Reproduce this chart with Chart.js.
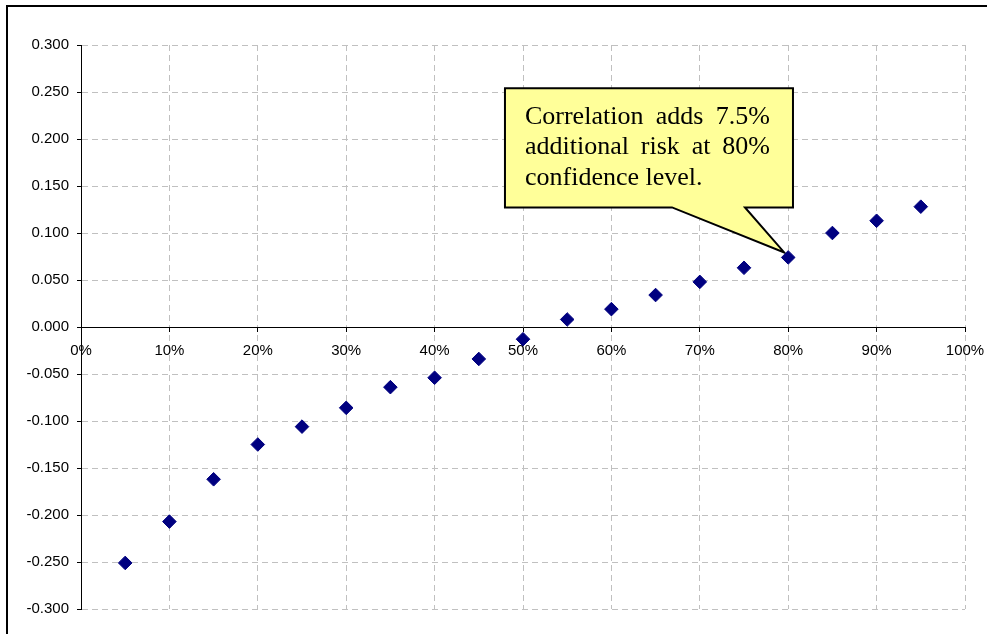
<!DOCTYPE html>
<html>
<head>
<meta charset="utf-8">
<script src="https://cdn.jsdelivr.net/npm/chart.js@4.4.1/dist/chart.umd.min.js"></script>
<style>
  html, body { margin: 0; padding: 0; background: #fff; }
  #wrap { position: relative; width: 987px; height: 634px; }
</style>
</head>
<body>
<div id="wrap"><canvas id="c" width="987" height="634"></canvas></div>
<script>
// ---- data ----
const confidenceLevels = [0.05, 0.10, 0.15, 0.20, 0.25, 0.30, 0.35, 0.40, 0.45, 0.50,
                          0.55, 0.60, 0.65, 0.70, 0.75, 0.80, 0.85, 0.90, 0.95];
const riskDifference   = [-0.251, -0.207, -0.162, -0.125, -0.106, -0.086, -0.064, -0.054, -0.034, -0.013,
                          0.008, 0.019, 0.034, 0.048, 0.063, 0.074, 0.100, 0.113, 0.128];
const xTickLabels = ['0%', '10%', '20%', '30%', '40%', '50%', '60%', '70%', '80%', '90%', '100%'];
const yTickLabels = ['-0.300', '-0.250', '-0.200', '-0.150', '-0.100', '-0.050', '0.000',
                     '0.050', '0.100', '0.150', '0.200', '0.250', '0.300'];
const calloutLines = ['Correlation adds 7.5%', 'additional risk at 80%', 'confidence level.'];
const calloutPointIndex = 15; // the 80% point

const points = confidenceLevels.map((x, i) => ({ x: x, y: riskDifference[i] }));

const GRID = '#c0c0c0';
const AXIS_FONT = { family: "'Liberation Sans', Arial, sans-serif", size: 15 };

const framePlugin = {
  id: 'frame',
  beforeDraw(chart) {
    const ctx = chart.ctx;
    ctx.save();
    ctx.fillStyle = '#fff';
    ctx.fillRect(0, 0, chart.width, chart.height);
    ctx.strokeStyle = '#000';
    ctx.lineWidth = 2;
    ctx.strokeRect(7, 6, chart.width + 50, chart.height + 50);
    ctx.restore();
  }
};

const calloutPlugin = {
  id: 'callout',
  beforeDatasetsDraw(chart, args, opts) {
    const xs = chart.scales.x, ys = chart.scales.y;
    const ctx = chart.ctx;
    const left = xs.getPixelForValue(opts.xMin);
    const right = xs.getPixelForValue(opts.xMax);
    const top = ys.getPixelForValue(opts.yMax);
    const bottom = ys.getPixelForValue(opts.yMin);
    const b1 = xs.getPixelForValue(opts.baseFrom);
    const b2 = xs.getPixelForValue(opts.baseTo);
    const meta = chart.getDatasetMeta(0);
    const pt = meta.data[opts.pointIndex];
    const tipX = pt.x + opts.tipOffset[0];
    const tipY = pt.y + opts.tipOffset[1];

    ctx.save();
    ctx.beginPath();
    ctx.moveTo(left, top);
    ctx.lineTo(right, top);
    ctx.lineTo(right, bottom);
    ctx.lineTo(b2, bottom);
    ctx.lineTo(tipX, tipY);
    ctx.lineTo(b1, bottom);
    ctx.lineTo(left, bottom);
    ctx.closePath();
    ctx.fillStyle = '#ffff99';
    ctx.fill();
    ctx.lineWidth = 2;
    ctx.lineJoin = 'miter';
    ctx.strokeStyle = '#000';
    ctx.stroke();

    // justified text
    ctx.fillStyle = '#000';
    ctx.font = "26px 'Liberation Serif', 'Times New Roman', serif";
    ctx.textBaseline = 'alphabetic';
    ctx.textAlign = 'left';
    const tx0 = left + opts.padLeft;
    const tx1 = right - opts.padRight;
    const avail = tx1 - tx0;
    calloutLines.forEach((line, li) => {
      const y = top + opts.firstBaseline + li * opts.lineHeight;
      const words = line.split(' ');
      const isLast = li === calloutLines.length - 1;
      if (isLast || words.length < 2) {
        ctx.fillText(line, tx0, y);
        return;
      }
      const widths = words.map(w => ctx.measureText(w).width);
      const total = widths.reduce((a, b) => a + b, 0);
      const gap = (avail - total) / (words.length - 1);
      let x = tx0;
      words.forEach((w, wi) => {
        ctx.fillText(w, x, y);
        x += widths[wi] + gap;
      });
    });
    ctx.restore();
  }
};

new Chart(document.getElementById('c'), {
  type: 'scatter',
  data: {
    datasets: [{
      data: points,
      pointStyle: 'rectRot',
      pointRadius: 6.8,
      pointBackgroundColor: '#000080',
      pointBorderColor: '#000080',
      pointBorderWidth: 1,
      pointHoverRadius: 6.8
    }]
  },
  options: {
    responsive: false,
    animation: false,
    events: [],
    layout: { padding: { top: 45, right: 22, bottom: 25, left: 0 } },
    plugins: {
      legend: { display: false },
      tooltip: { enabled: false },
      callout: {
        xMin: 0.4796, xMax: 0.8054, yMax: 0.2539, yMin: 0.1272,
        baseFrom: 0.6686, baseTo: 0.7511,
        pointIndex: calloutPointIndex, tipOffset: [-4, -5],
        padLeft: 20, padRight: 23, firstBaseline: 35.5, lineHeight: 30.5
      }
    },
    scales: {
      x: {
        type: 'linear',
        position: { y: 0 },
        min: 0, max: 1,
        afterFit(scale) { scale.height = 0; scale.paddingLeft = 0; scale.paddingRight = 0; },
        ticks: {
          stepSize: 0.1,
          autoSkip: false,
          maxRotation: 0,
          padding: 11,
          color: '#000',
          font: AXIS_FONT,
          callback: (v, i) => xTickLabels[i]
        },
        grid: {
          color: (c) => (c.tick && Math.abs(c.tick.value) < 1e-9) ? 'rgba(0,0,0,0)' : GRID,
          tickColor: '#000',
          tickLength: 4,
          lineWidth: 1
        },
        border: { display: true, color: '#000', width: 1, dash: [6, 4] }
      },
      y: {
        type: 'linear',
        position: 'left',
        min: -0.3, max: 0.3,
        afterFit(scale) { scale.width = 81; scale.paddingTop = 0; scale.paddingBottom = 0; },
        ticks: {
          stepSize: 0.05,
          autoSkip: false,
          padding: 8,
          color: '#000',
          font: AXIS_FONT,
          callback: (v, i) => yTickLabels[i]
        },
        grid: {
          color: (c) => (c.tick && Math.abs(c.tick.value) < 1e-9) ? 'rgba(0,0,0,0)' : GRID,
          tickColor: '#000',
          tickLength: 4,
          lineWidth: 1
        },
        border: { display: true, color: '#000', width: 1, dash: [6, 4] }
      }
    }
  },
  plugins: [framePlugin, calloutPlugin]
});
</script>
</body>
</html>
